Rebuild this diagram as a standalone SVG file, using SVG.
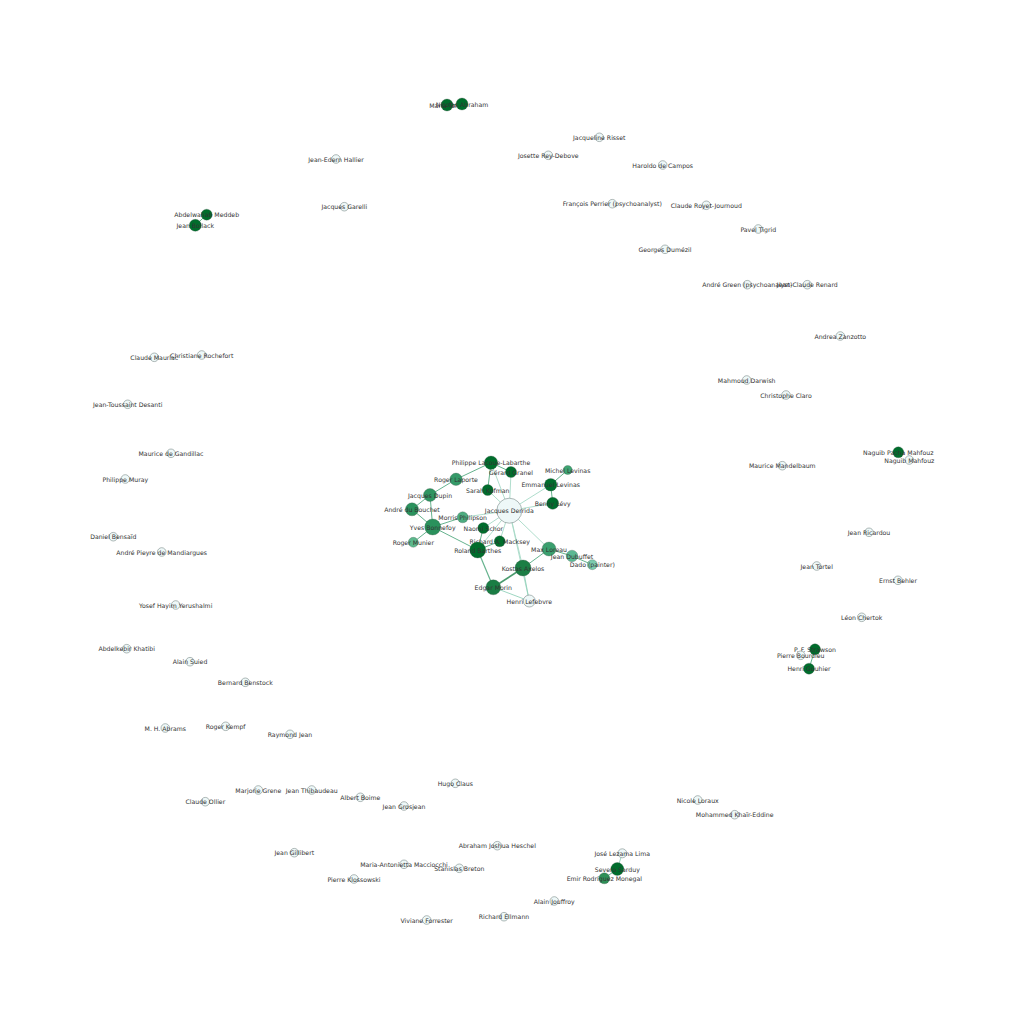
<svg xmlns="http://www.w3.org/2000/svg" width="1024" height="1024" viewBox="0 0 1024 1024">
<style>
text{font-family:"DejaVu Sans","Liberation Sans",sans-serif;font-size:6.2px;fill:#333;text-anchor:middle;dominant-baseline:central}
.l{fill:#eef8f8;stroke:#7a8a88;stroke-width:0.6}
.c{stroke:#3d5a4a;stroke-width:0.3}
.e{stroke:#4ba67a;stroke-width:1;fill:none;opacity:0.85}
.d{stroke:#a6d9c6;stroke-width:0.9;fill:none}
</style>
<rect width="1024" height="1024" fill="#fff"/>
<g id="edges">
<line class="d" x1="509.3" y1="510.7" x2="491" y2="462.7"/>
<line class="d" x1="509.3" y1="510.7" x2="511" y2="472"/>
<line class="d" x1="509.3" y1="510.7" x2="487.7" y2="490"/>
<line class="d" x1="509.3" y1="510.7" x2="550.7" y2="484.7"/>
<line class="d" x1="509.3" y1="510.7" x2="552.7" y2="503.3"/>
<line class="d" x1="509.3" y1="510.7" x2="483.3" y2="528"/>
<line class="d" x1="509.3" y1="510.7" x2="499.7" y2="541.3"/>
<line class="d" x1="509.3" y1="510.7" x2="477.7" y2="550"/>
<line class="d" x1="509.3" y1="510.7" x2="549" y2="549"/>
<line class="d" x1="509.3" y1="510.7" x2="523" y2="568"/>
<line class="d" x1="509.3" y1="510.7" x2="529.3" y2="601"/>
<line class="d" x1="509.3" y1="510.7" x2="462.7" y2="517.3"/>
<line class="e" x1="491" y1="462.7" x2="511" y2="472"/>
<line class="e" x1="491" y1="462.7" x2="487.7" y2="490"/>
<line class="e" x1="491" y1="462.7" x2="456" y2="479.3"/>
<line class="e" x1="456" y1="479.3" x2="430" y2="495"/>
<line class="e" x1="430" y1="495" x2="412" y2="509.3"/>
<line class="e" x1="430" y1="495" x2="432.7" y2="527"/>
<line class="e" x1="412" y1="509.3" x2="432.7" y2="527"/>
<line class="e" x1="432.7" y1="527" x2="413.3" y2="542.3"/>
<line class="e" x1="432.7" y1="527" x2="462.7" y2="517.3"/>
<line class="e" x1="432.7" y1="527" x2="477.7" y2="550"/>
<line class="e" x1="477.7" y1="550" x2="483.3" y2="528"/>
<line class="e" x1="477.7" y1="550" x2="499.7" y2="541.3"/>
<line class="e" x1="477.7" y1="550" x2="493.3" y2="587.3" style="stroke-width:1.2"/>
<line class="e" x1="523" y1="568" x2="493.3" y2="587.3" style="stroke:#2c8a55;stroke-width:1.7"/>
<line class="e" x1="523" y1="568" x2="549" y2="549"/>
<line class="e" x1="523" y1="568" x2="529.3" y2="601" style="stroke:#8ccfb6"/>
<line class="e" x1="493.3" y1="587.3" x2="529.3" y2="601" style="stroke:#8ccfb6"/>
<line class="e" x1="549" y1="549" x2="572" y2="556"/>
<line class="e" x1="572" y1="556" x2="592.3" y2="564.7"/>
<line class="e" x1="550.7" y1="484.7" x2="567.7" y2="470"/>
<line class="e" x1="550.7" y1="484.7" x2="552.7" y2="503.3"/>
<line class="e" x1="447" y1="105" x2="462" y2="104"/>
<line class="e" x1="206.7" y1="214.7" x2="195.3" y2="225.3"/>
<line class="e" x1="617.3" y1="869" x2="622.3" y2="853.3" style="stroke:#8ccfb6"/>
<line class="e" x1="617.3" y1="869" x2="604.3" y2="878.3"/>
<line class="e" x1="815" y1="649.3" x2="809" y2="668.7"/>
</g>
<g id="n-derrida"><circle class="l" cx="509.3" cy="510.7" r="12.5"/><text x="509.3" y="510.7">Jacques Derrida</text></g>
<g id="n-pll"><circle class="c" fill="#006d2c" cx="491" cy="462.7" r="6.7"/><text x="491" y="462.7">Philippe Lacoue-Labarthe</text></g>
<g id="n-granel"><circle class="c" fill="#006d2c" cx="511" cy="472" r="5.5"/><text x="511" y="472">Gérard Granel</text></g>
<g id="n-kofman"><circle class="c" fill="#006d2c" cx="487.7" cy="490" r="5.5"/><text x="487.7" y="490">Sarah Kofman</text></g>
<g id="n-laporte"><circle class="c" fill="#359a69" cx="456" cy="479.3" r="6.2"/><text x="456" y="479.3">Roger Laporte</text></g>
<g id="n-dupin"><circle class="c" fill="#2e9460" cx="430" cy="495" r="6.5"/><text x="430" y="495">Jacques Dupin</text></g>
<g id="n-bouchet"><circle class="c" fill="#2b925d" cx="412" cy="509.3" r="6.5"/><text x="412" y="509.3">André du Bouchet</text></g>
<g id="n-bonnefoy"><circle class="c" fill="#2a915c" cx="432.7" cy="527" r="8"/><text x="432.7" y="527">Yves Bonnefoy</text></g>
<g id="n-philipson"><circle class="c" fill="#4dac80" cx="462.7" cy="517.3" r="5.5"/><text x="462.7" y="517.3">Morris Philipson</text></g>
<g id="n-schor"><circle class="c" fill="#006d2c" cx="483.3" cy="528" r="5.5"/><text x="483.3" y="528">Naomi Schor</text></g>
<g id="n-macksey"><circle class="c" fill="#006d2c" cx="499.7" cy="541.3" r="5.5"/><text x="499.7" y="541.3">Richard A. Macksey</text></g>
<g id="n-barthes"><circle class="c" fill="#006d2c" cx="477.7" cy="550" r="8"/><text x="477.7" y="550">Roland Barthes</text></g>
<g id="n-munier"><circle class="c" fill="#5cb88c" cx="413.3" cy="542.3" r="5"/><text x="413.3" y="542.3">Roger Munier</text></g>
<g id="n-mlevinas"><circle class="c" fill="#3ea472" cx="567.7" cy="470" r="4.5"/><text x="567.7" y="470">Michel Levinas</text></g>
<g id="n-elevinas"><circle class="c" fill="#006d2c" cx="550.7" cy="484.7" r="6.3"/><text x="550.7" y="484.7">Emmanuel Levinas</text></g>
<g id="n-levy"><circle class="c" fill="#006d2c" cx="552.7" cy="503.3" r="6"/><text x="552.7" y="503.3">Benny Lévy</text></g>
<g id="n-loreau"><circle class="c" fill="#3a9f6e" cx="549" cy="549" r="7"/><text x="549" y="549">Max Loreau</text></g>
<g id="n-dubuffet"><circle class="c" fill="#5cb893" cx="572" cy="556" r="5.8"/><text x="572" y="556">Jean Dubuffet</text></g>
<g id="n-dado"><circle class="c" fill="#7cccae" cx="592.3" cy="564.7" r="5"/><text x="592.3" y="564.7">Dado (painter)</text></g>
<g id="n-axelos"><circle class="c" fill="#1b7e45" cx="523" cy="568" r="8"/><text x="523" y="568">Kostas Axelos</text></g>
<g id="n-morin"><circle class="c" fill="#1a7d44" cx="493.3" cy="587.3" r="7.5"/><text x="493.3" y="587.3">Edgar Morin</text></g>
<g id="n-lefebvre"><circle class="l" cx="529.3" cy="601" r="6"/><text x="529.3" y="601">Henri Lefebvre</text></g>
<g id="n-torok"><circle class="c" fill="#006d2c" cx="447" cy="105" r="6"/><text x="447" y="105">Maria Torok</text></g>
<g id="n-abraham"><circle class="c" fill="#006d2c" cx="462" cy="104" r="6"/><text x="462" y="104">Nicolas Abraham</text></g>
<g id="n-meddeb"><circle class="c" fill="#006d2c" cx="206.7" cy="214.7" r="5.5"/><text x="206.7" y="214.7">Abdelwahab Meddeb</text></g>
<g id="n-bollack"><circle class="c" fill="#006d2c" cx="195.3" cy="225.3" r="6"/><text x="195.3" y="225.3">Jean Bollack</text></g>
<g id="n-naguibp"><circle class="c" fill="#006d2c" cx="898.3" cy="452.3" r="5.5"/><text x="898.3" y="452.3">Naguib Pacha Mahfouz</text></g>
<g id="n-strawson"><circle class="c" fill="#006d2c" cx="815" cy="649.3" r="5.5"/><text x="815" y="649.3">P. F. Strawson</text></g>
<g id="n-gouhier"><circle class="c" fill="#006d2c" cx="809" cy="668.7" r="5.5"/><text x="809" y="668.7">Henri Gouhier</text></g>
<g id="n-sarduy"><circle class="c" fill="#006d2c" cx="617.3" cy="869" r="6.5"/><text x="617.3" y="869">Severo Sarduy</text></g>
<g id="n-monegal"><circle class="c" fill="#2e8f57" cx="604.3" cy="878.3" r="5.5"/><text x="604.3" y="878.3">Emir Rodríguez Monegal</text></g>
<g id="n-lezama"><circle class="l" cx="622.3" cy="853.3" r="4.5"/><text x="622.3" y="853.3">José Lezama Lima</text></g>
<g id="n-hallier"><circle class="l" cx="336" cy="159" r="4.3"/><text x="336" y="159">Jean-Edern Hallier</text></g>
<g id="n-garelli"><circle class="l" cx="344.3" cy="206.7" r="4.3"/><text x="344.3" y="206.7">Jacques Garelli</text></g>
<g id="n-risset"><circle class="l" cx="599.3" cy="137.3" r="4.3"/><text x="599.3" y="137.3">Jacqueline Risset</text></g>
<g id="n-reydebove"><circle class="l" cx="548.3" cy="155.3" r="4.3"/><text x="548.3" y="155.3">Josette Rey-Debove</text></g>
<g id="n-campos"><circle class="l" cx="662.7" cy="165" r="4.3"/><text x="662.7" y="165">Haroldo de Campos</text></g>
<g id="n-perrier"><circle class="l" cx="612.3" cy="203.7" r="4.3"/><text x="612.3" y="203.7">François Perrier (psychoanalyst)</text></g>
<g id="n-royet"><circle class="l" cx="706.3" cy="205.3" r="4.3"/><text x="706.3" y="205.3">Claude Royet-Journoud</text></g>
<g id="n-tigrid"><circle class="l" cx="758.3" cy="229" r="4.3"/><text x="758.3" y="229">Pavel Tigrid</text></g>
<g id="n-dumezil"><circle class="l" cx="665" cy="249.3" r="4.3"/><text x="665" y="249.3">Georges Dumézil</text></g>
<g id="n-green"><circle class="l" cx="747.3" cy="284.7" r="4.3"/><text x="747.3" y="284.7">André Green (psychoanalyst)</text></g>
<g id="n-renard"><circle class="l" cx="807.3" cy="284.7" r="4.3"/><text x="807.3" y="284.7">Jean-Claude Renard</text></g>
<g id="n-zanzotto"><circle class="l" cx="840.3" cy="336" r="4.3"/><text x="840.3" y="336">Andrea Zanzotto</text></g>
<g id="n-darwish"><circle class="l" cx="746.7" cy="380" r="4.3"/><text x="746.7" y="380">Mahmoud Darwish</text></g>
<g id="n-claro"><circle class="l" cx="786" cy="395" r="4.3"/><text x="786" y="395">Christophe Claro</text></g>
<g id="n-naguib"><circle class="l" cx="909.3" cy="460" r="4.3"/><text x="909.3" y="460">Naguib Mahfouz</text></g>
<g id="n-mandelbaum"><circle class="l" cx="782.3" cy="465.7" r="4.3"/><text x="782.3" y="465.7">Maurice Mandelbaum</text></g>
<g id="n-ricardou"><circle class="l" cx="869" cy="532.3" r="4.3"/><text x="869" y="532.3">Jean Ricardou</text></g>
<g id="n-tortel"><circle class="l" cx="816.7" cy="566" r="4.3"/><text x="816.7" y="566">Jean Tortel</text></g>
<g id="n-behler"><circle class="l" cx="898" cy="580.3" r="4.3"/><text x="898" y="580.3">Ernst Behler</text></g>
<g id="n-chertok"><circle class="l" cx="861.7" cy="617.3" r="4.3"/><text x="861.7" y="617.3">Léon Chertok</text></g>
<g id="n-bourdieu"><circle class="l" cx="800.7" cy="655.3" r="4.3"/><text x="800.7" y="655.3">Pierre Bourdieu</text></g>
<g id="n-mauriac"><circle class="l" cx="154.3" cy="357.3" r="4.3"/><text x="154.3" y="357.3">Claude Mauriac</text></g>
<g id="n-rochefort"><circle class="l" cx="201.7" cy="355" r="4.3"/><text x="201.7" y="355">Christiane Rochefort</text></g>
<g id="n-desanti"><circle class="l" cx="127.7" cy="404.3" r="4.3"/><text x="127.7" y="404.3">Jean-Toussaint Desanti</text></g>
<g id="n-gandillac"><circle class="l" cx="171" cy="453.3" r="4.3"/><text x="171" y="453.3">Maurice de Gandillac</text></g>
<g id="n-muray"><circle class="l" cx="125.3" cy="479" r="4.3"/><text x="125.3" y="479">Philippe Muray</text></g>
<g id="n-bensaid"><circle class="l" cx="113.3" cy="536.7" r="4.3"/><text x="113.3" y="536.7">Daniel Bensaïd</text></g>
<g id="n-mandiargues"><circle class="l" cx="161.7" cy="552" r="4.3"/><text x="161.7" y="552">André Pieyre de Mandiargues</text></g>
<g id="n-yerushalmi"><circle class="l" cx="175.7" cy="605" r="4.3"/><text x="175.7" y="605">Yosef Hayim Yerushalmi</text></g>
<g id="n-khatibi"><circle class="l" cx="126.7" cy="648.7" r="4.3"/><text x="126.7" y="648.7">Abdelkebir Khatibi</text></g>
<g id="n-suied"><circle class="l" cx="190" cy="661.7" r="4.3"/><text x="190" y="661.7">Alain Suied</text></g>
<g id="n-benstock"><circle class="l" cx="245.3" cy="682.3" r="4.3"/><text x="245.3" y="682.3">Bernard Benstock</text></g>
<g id="n-abrams"><circle class="l" cx="165.3" cy="728" r="4.3"/><text x="165.3" y="728">M. H. Abrams</text></g>
<g id="n-kempf"><circle class="l" cx="225.7" cy="726.3" r="4.3"/><text x="225.7" y="726.3">Roger Kempf</text></g>
<g id="n-rjean"><circle class="l" cx="290" cy="734.3" r="4.3"/><text x="290" y="734.3">Raymond Jean</text></g>
<g id="n-ollier"><circle class="l" cx="205.3" cy="801.7" r="4.3"/><text x="205.3" y="801.7">Claude Ollier</text></g>
<g id="n-grene"><circle class="l" cx="258.3" cy="790" r="4.3"/><text x="258.3" y="790">Marjorie Grene</text></g>
<g id="n-thibaudeau"><circle class="l" cx="311.7" cy="790" r="4.3"/><text x="311.7" y="790">Jean Thibaudeau</text></g>
<g id="n-boime"><circle class="l" cx="360.3" cy="797.3" r="4.3"/><text x="360.3" y="797.3">Albert Boime</text></g>
<g id="n-grosjean"><circle class="l" cx="404" cy="806" r="4.3"/><text x="404" y="806">Jean Grosjean</text></g>
<g id="n-claus"><circle class="l" cx="455.3" cy="783.3" r="4.3"/><text x="455.3" y="783.3">Hugo Claus</text></g>
<g id="n-gillibert"><circle class="l" cx="294.3" cy="852.7" r="4.3"/><text x="294.3" y="852.7">Jean Gillibert</text></g>
<g id="n-macciocchi"><circle class="l" cx="404" cy="864.3" r="4.3"/><text x="404" y="864.3">Maria-Antonietta Macciocchi</text></g>
<g id="n-breton"><circle class="l" cx="459.3" cy="868.3" r="4.3"/><text x="459.3" y="868.3">Stanislas Breton</text></g>
<g id="n-klossowski"><circle class="l" cx="354" cy="879" r="4.3"/><text x="354" y="879">Pierre Klossowski</text></g>
<g id="n-forrester"><circle class="l" cx="426.7" cy="920" r="4.3"/><text x="426.7" y="920">Viviane Forrester</text></g>
<g id="n-heschel"><circle class="l" cx="497.3" cy="845.7" r="4.3"/><text x="497.3" y="845.7">Abraham Joshua Heschel</text></g>
<g id="n-jouffroy"><circle class="l" cx="554.3" cy="901" r="4.3"/><text x="554.3" y="901">Alain Jouffroy</text></g>
<g id="n-ellmann"><circle class="l" cx="504" cy="916.7" r="4.3"/><text x="504" y="916.7">Richard Ellmann</text></g>
<g id="n-loraux"><circle class="l" cx="697.7" cy="800" r="4.3"/><text x="697.7" y="800">Nicole Loraux</text></g>
<g id="n-khaireddine"><circle class="l" cx="734.7" cy="814.7" r="4.3"/><text x="734.7" y="814.7">Mohammed Khaïr-Eddine</text></g>
</svg>
